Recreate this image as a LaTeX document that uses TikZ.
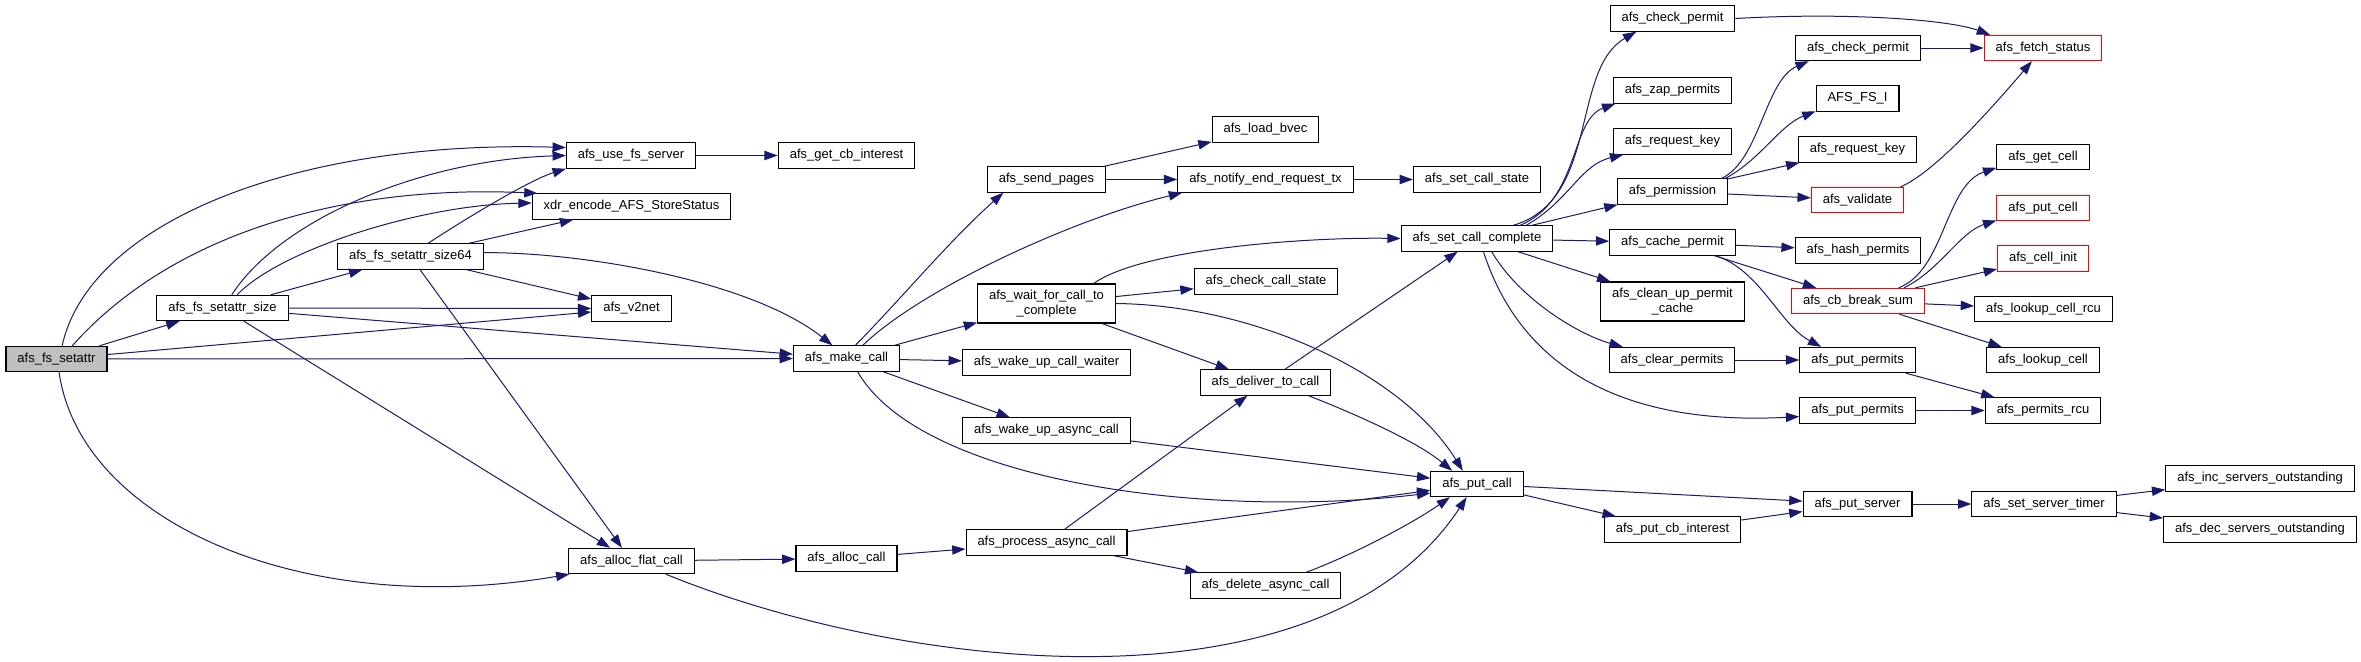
\documentclass[tikz,border=0pt]{standalone}
\usepackage{fontspec}
\setmainfont{Liberation Sans}
\usetikzlibrary{arrows.meta}
\definecolor{edgeblue}{HTML}{191970}
\definecolor{rootgray}{HTML}{BFBFBF}
\begin{document}
\begin{tikzpicture}[x=0.75pt, y=-0.75pt, >={Triangle[length=10pt,width=7pt]},
    fn/.style={draw=black, line width=0.8pt, fill=white, inner xsep=8.6pt, inner ysep=0pt,
        minimum height=19pt, font=\fontsize{9.75}{11.25}\selectfont},
    root/.style={fn, fill=rootgray},
    trunc/.style={fn, draw=red},
    twoline/.style={fn, align=center, minimum height=29.25pt},
    link/.style={->, color=edgeblue, line width=0.75pt}]
    \useasboundingbox (0,0) rectangle (2361,661);

    % functions, column by column
    \node[root] (setattr) at (56.5,359) {afs\_fs\_setattr};
    \node[fn] (size) at (222.5,308) {afs\_fs\_setattr\_size};
    \node[fn] (size64) at (410.5,256.5) {afs\_fs\_setattr\_size64};
    \node[fn] (usefs) at (631,155.5) {afs\_use\_fs\_server};
    \node[fn] (xdr) at (631.5,206.5) {xdr\_encode\_AFS\_StoreStatus};
    \node[fn] (vnet) at (631.5,308.5) {afs\_v2net};
    \node[fn] (allocflat) at (631.5,561) {afs\_alloc\_flat\_call};
    \node[fn] (getcb) at (846.5,155.5) {afs\_get\_cb\_interest};
    \node[fn] (make) at (846.5,358.5) {afs\_make\_call};
    \node[fn] (alloc) at (846.5,558.5) {afs\_alloc\_call};
    \node[fn] (send) at (1046.5,179.5) {afs\_send\_pages};
    \node[twoline] (waitc) at (1046.5,303.5) {afs\_wait\_for\_call\_to\\\_complete};
    \node[fn] (waiter) at (1046.5,362.5) {afs\_wake\_up\_call\_waiter};
    \node[fn] (wakeasync) at (1046.5,430.5) {afs\_wake\_up\_async\_call};
    \node[fn] (procasync) at (1046.5,542.5) {afs\_process\_async\_call};
    \node[fn] (bvec) at (1265.5,129.5) {afs\_load\_bvec};
    \node[fn] (notify) at (1265.5,179.5) {afs\_notify\_end\_request\_tx};
    \node[fn] (checkstate) at (1266,281.5) {afs\_check\_call\_state};
    \node[fn] (deliver) at (1265.5,382.5) {afs\_deliver\_to\_call};
    \node[fn] (delasync) at (1265.5,585.5) {afs\_delete\_async\_call};
    \node[fn] (callstate) at (1477,179.5) {afs\_set\_call\_state};
    \node[fn] (complete) at (1477,238.5) {afs\_set\_call\_complete};
    \node[fn] (putcall) at (1477,484) {afs\_put\_call};
    \node[fn] (chka) at (1672.5,18.5) {afs\_check\_permit};
    \node[fn] (zap) at (1672.5,90.5) {afs\_zap\_permits};
    \node[fn] (keya) at (1672.5,141.5) {afs\_request\_key};
    \node[fn] (perm) at (1672.5,191.5) {afs\_permission};
    \node[fn] (cache) at (1672.5,242.5) {afs\_cache\_permit};
    \node[twoline] (cleanup) at (1672.5,301.5) {afs\_clean\_up\_permit\\\_cache};
    \node[fn] (clear) at (1672,360) {afs\_clear\_permits};
    \node[fn] (putcb) at (1672.5,529.5) {afs\_put\_cb\_interest};
    \node[fn] (chkb) at (1858,48) {afs\_check\_permit};
    \node[fn] (fsi) at (1857.5,98.5) {AFS\_FS\_I};
    \node[fn] (keyb) at (1857.5,149.5) {afs\_request\_key};
    \node[trunc] (validate) at (1857.5,200) {afs\_validate};
    \node[fn] (hash) at (1858,250.5) {afs\_hash\_permits};
    \node[trunc] (cbsum) at (1858,301) {afs\_cb\_break\_sum};
    \node[fn] (ppa) at (1857.5,360) {afs\_put\_permits};
    \node[fn] (ppb) at (1857.5,410.5) {afs\_put\_permits};
    \node[fn] (putserver) at (1857.5,504) {afs\_put\_server};
    \node[trunc] (fetch) at (2043,48) {afs\_fetch\_status};
    \node[fn] (getcell) at (2043,157) {afs\_get\_cell};
    \node[trunc] (putcell) at (2043,208) {afs\_put\_cell};
    \node[trunc] (cellinit) at (2043,258.5) {afs\_cell\_init};
    \node[fn] (lookuprcu) at (2043.5,309) {afs\_lookup\_cell\_rcu};
    \node[fn] (lookup) at (2043,360) {afs\_lookup\_cell};
    \node[fn] (permrcu) at (2043,410.5) {afs\_permits\_rcu};
    \node[fn] (timer) at (2044,504) {afs\_set\_server\_timer};
    \node[fn] (inc) at (2260,478.5) {afs\_inc\_servers\_outstanding};
    \node[fn] (dec) at (2260,529.5) {afs\_dec\_servers\_outstanding};

    % calls from the setattr entry points
    \draw[link] (setattr.67) .. controls (90,220) and (300,140) .. (usefs.173);
    \draw[link] (setattr.40) .. controls (180,225) and (360,185) .. (xdr.172);
    \draw[link] (setattr) -- (size);
    \draw[link] (setattr) -- (vnet);
    \draw[link] (setattr) -- (make);
    \draw[link] (setattr.-79) .. controls (80,520) and (300,620) .. (allocflat.192);
    \draw[link] (size.55) .. controls (280,220) and (420,160) .. (usefs.west);
    \draw[link] (size.42) .. controls (280,250) and (420,205) .. (xdr.178);
    \draw[link] (size) -- (size64);
    \draw[link] (size) -- (vnet);
    \draw[link] (size) -- (make);
    \draw[link] (size) -- (allocflat);
    \draw[link] (size64.37) .. controls (470,216) and (530,180) .. (usefs.south west);
    \draw[link] (size64) -- (xdr);
    \draw[link] (size64.3) .. controls (580,252) and (750,280) .. (make.137);
    \draw[link] (size64) -- (vnet);
    \draw[link] (size64) -- (allocflat);
    \draw[link] (usefs) -- (getcb);

    % rxrpc call handling
    \draw[link] (make.56) .. controls (900,300) and (950,240) .. (send.197);
    \draw[link] (make.39) .. controls (920,290) and (1070,220) .. (notify.189);
    \draw[link] (make) -- (waitc);
    \draw[link] (make) -- (waiter);
    \draw[link] (make) -- (wakeasync);
    \draw[link] (make.-50) .. controls (920,480) and (1200,520) .. (putcall.191);
    \draw[link] (send) -- (bvec);
    \draw[link] (send) -- (notify);
    \draw[link] (notify) -- (callstate);
    \draw[link] (waitc.23) .. controls (1140,250) and (1300,237) .. (complete.west);
    \draw[link] (waitc) -- (checkstate);
    \draw[link] (waitc) -- (deliver);
    \draw[link] (waitc.east) .. controls (1250,305) and (1400,370) .. (putcall.137);
    \draw[link] (wakeasync) -- (putcall);
    \draw[link] (deliver) -- (complete);
    \draw[link] (deliver.-17) .. controls (1350,412) and (1415,440) .. (putcall.152);
    \draw[link] (allocflat) -- (alloc);
    \draw[link] (allocflat.-21) .. controls (900,670) and (1320,720) .. (putcall.232);
    \draw[link] (alloc) -- (procasync);
    \draw[link] (procasync) -- (deliver);
    \draw[link] (procasync) -- (putcall);
    \draw[link] (procasync) -- (delasync);
    \draw[link] (delasync.18) .. controls (1350,556) and (1410,525) .. (putcall.206);

    % completion and permits
    \draw[link] (complete.20) .. controls (1600,200) and (1570,70) .. (chka.200);
    \draw[link] (complete.17) .. controls (1580,200) and (1570,120) .. (zap.193);
    \draw[link] (complete.15) .. controls (1570,200) and (1580,165) .. (keya.195);
    \draw[link] (complete) -- (perm);
    \draw[link] (complete) -- (cache);
    \draw[link] (complete) -- (cleanup);
    \draw[link] (complete.-42) .. controls (1520,300) and (1580,335) .. (clear.165);
    \draw[link] (complete.-64) .. controls (1525,380) and (1640,425) .. (ppb.186);
    \draw[link] (perm.15) .. controls (1760,160) and (1765,80) .. (chkb.195);
    \draw[link] (perm.14) .. controls (1760,160) and (1780,125) .. (fsi.197);
    \draw[link] (perm) -- (keyb);
    \draw[link] (perm) -- (validate);
    \draw[link] (cache) -- (hash);
    \draw[link] (cache) -- (cbsum);
    \draw[link] (cache.-17) .. controls (1760,270) and (1780,325) .. (ppa.160);
    \draw[link] (clear) -- (ppa);
    \draw[link] (ppa) -- (permrcu);
    \draw[link] (ppb) -- (permrcu);
    \draw[link] (chka.east) .. controls (1850,12) and (1950,20) .. (fetch.166);
    \draw[link] (chkb) -- (fetch);
    \draw[link] (validate.17) .. controls (1935,172) and (1990,110) .. (fetch.230);
    \draw[link] (cbsum.18) .. controls (1945,270) and (1945,185) .. (getcell.193);
    \draw[link] (cbsum.16) .. controls (1940,270) and (1960,232) .. (putcell.195);
    \draw[link] (cbsum) -- (cellinit);
    \draw[link] (cbsum) -- (lookuprcu);
    \draw[link] (cbsum) -- (lookup);

    % servers
    \draw[link] (putcall) -- (putserver);
    \draw[link] (putcall) -- (putcb);
    \draw[link] (putcb) -- (putserver);
    \draw[link] (putserver) -- (timer);
    \draw[link] (timer) -- (inc);
    \draw[link] (timer) -- (dec);
\end{tikzpicture}
\end{document}
